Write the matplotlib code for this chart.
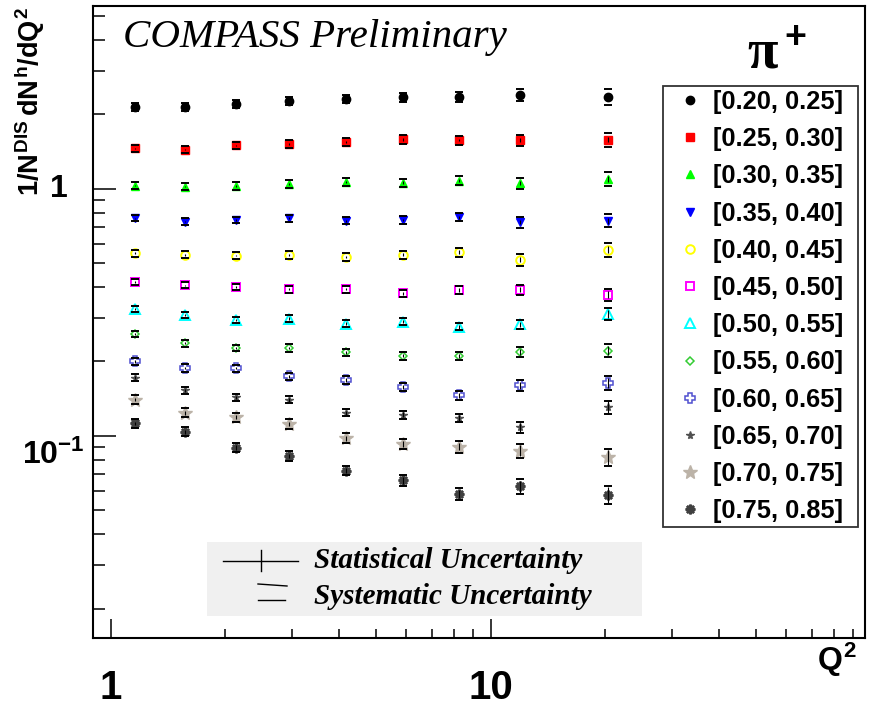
import numpy as np
import matplotlib
matplotlib.use("Agg")
import matplotlib.pyplot as plt
from matplotlib.lines import Line2D
from matplotlib.patches import Rectangle
from matplotlib.ticker import FixedLocator, LogLocator, NullFormatter
import matplotlib.transforms as mtransforms

plt.rcParams['font.family'] = ['Liberation Sans', 'DejaVu Sans']
plt.rcParams['mathtext.fontset'] = 'custom'
plt.rcParams['mathtext.rm'] = 'Liberation Sans:bold'
plt.rcParams['mathtext.it'] = 'Liberation Sans:bold'
plt.rcParams['mathtext.bf'] = 'Liberation Sans:bold'

W, H = 873, 709

# Q^2 bin centres
q2 = [1.16, 1.57, 2.14, 2.95, 4.16, 5.89, 8.25, 11.96, 20.3]

# multiplicities per z bin
z_labels = ["[0.20, 0.25]", "[0.25, 0.30]", "[0.30, 0.35]", "[0.35, 0.40]",
            "[0.40, 0.45]", "[0.45, 0.50]", "[0.50, 0.55]", "[0.55, 0.60]",
            "[0.60, 0.65]", "[0.65, 0.70]", "[0.70, 0.75]", "[0.75, 0.85]"]
m_020 = [2.15, 2.15, 2.21, 2.27, 2.31, 2.35, 2.35, 2.40, 2.36]
m_025 = [1.46, 1.44, 1.50, 1.52, 1.545, 1.584, 1.574, 1.574, 1.58]
m_030 = [1.031, 1.022, 1.028, 1.045, 1.064, 1.06, 1.08, 1.054, 1.098]
m_035 = [0.761, 0.737, 0.749, 0.761, 0.744, 0.747, 0.768, 0.733, 0.744]
m_040 = [0.549, 0.541, 0.537, 0.541, 0.529, 0.542, 0.554, 0.517, 0.568]
m_045 = [0.420, 0.407, 0.401, 0.392, 0.392, 0.378, 0.390, 0.390, 0.373]
m_050 = [0.326, 0.308, 0.294, 0.2985, 0.285, 0.2896, 0.277, 0.283, 0.311]
m_055 = [0.259, 0.237, 0.227, 0.227, 0.2175, 0.211, 0.211, 0.219, 0.2215]
m_060 = [0.200, 0.1885, 0.188, 0.174, 0.1686, 0.158, 0.146, 0.160, 0.164]
m_065 = [0.172, 0.153, 0.143, 0.140, 0.124, 0.1216, 0.118, 0.1084, 0.1306]
m_070 = [0.140, 0.124, 0.119, 0.112, 0.098, 0.0928, 0.0905, 0.0872, 0.082]
m_075 = [0.1125, 0.104, 0.0897, 0.083, 0.0724, 0.0660, 0.0582, 0.0624, 0.0577]
mult = [m_020, m_025, m_030, m_035, m_040, m_045, m_050, m_055, m_060, m_065, m_070, m_075]

# relative uncertainties (rough reading of the bar sizes)
sys_rel_q = [0.028, 0.028, 0.028, 0.03, 0.03, 0.032, 0.036, 0.045, 0.055]
sys_scale_z = [1.3, 1.2, 1.2, 1.1, 1.2, 1.0, 1.0, 1.1, 1.2, 1.1, 1.5, 1.5]
stat_rel_q = [0.008, 0.009, 0.01, 0.011, 0.013, 0.016, 0.02, 0.028, 0.04]
stat_scale_z = [0.6, 0.6, 0.7, 0.7, 0.8, 0.8, 0.9, 1.0, 1.2, 1.5, 1.8, 2.0]

styles = [
    dict(marker='o', color='black', mfc='black', ms=6.0),
    dict(marker='s', color='red', mfc='red', ms=6.0),
    dict(marker='^', color='#00ff00', mfc='#00ff00', ms=5.8),
    dict(marker='v', color='#0000ff', mfc='#0000ff', ms=5.8),
    dict(marker='o', color='#ffff00', mfc='white', ms=6.2, mew=1.4),
    dict(marker='s', color='#ff00ff', mfc='white', ms=6.2, mew=1.4),
    dict(marker='^', color='#00ffff', mfc='white', ms=6.8, mew=1.4),
    dict(marker='D', color='#33cc33', mfc='white', ms=4.4, mew=1.1),
    dict(marker='P', color='#5050d0', mfc='white', ms=7.2, mew=1.1),
    dict(marker='*', color='#505050', mfc='#505050', ms=5.8),
    dict(marker='*', color='#bcb3a8', mfc='#bcb3a8', ms=10.5),
    dict(marker=(8, 2, 0), color='#404040', mfc='#404040', ms=7.0, mew=1.8),
]

fig = plt.figure(figsize=(W / 100, H / 100), dpi=100)
ax = fig.add_axes([0.1065, 0.1002, 0.8843, 0.8914])

handles = []
for i, (vals, st) in enumerate(zip(mult, styles)):
    vals = np.array(vals)
    sys_err = vals * np.array(sys_rel_q) * sys_scale_z[i]
    stat_err = vals * np.array(stat_rel_q) * stat_scale_z[i]
    h, = ax.plot(q2, vals, ls='none', marker=st['marker'], color=st['color'],
                 mfc=st['mfc'], mec=st['color'], ms=st['ms'], mew=st.get('mew', 1.0), zorder=3)
    handles.append(h)
    ax.errorbar(q2, vals, yerr=stat_err, fmt='none', ecolor='black', elinewidth=0.8, capsize=0, zorder=4)
    ax.errorbar(q2, vals, yerr=sys_err, fmt='none', ecolor='black', elinewidth=0,
                capsize=2.9, capthick=1.4, zorder=4)

ax.set_xscale('log')
ax.set_yscale('log')
ax.set_xlim(0.898, 96.6)
ax.set_ylim(0.0152, 5.5)

ax.yaxis.set_major_locator(FixedLocator([0.1, 1]))
ax.yaxis.set_minor_locator(LogLocator(base=10, subs=np.arange(2, 10)))
ax.yaxis.set_major_formatter(NullFormatter())
ax.yaxis.set_minor_formatter(NullFormatter())
ax.xaxis.set_minor_locator(LogLocator(base=10, subs=np.arange(2, 10)))
ax.xaxis.set_minor_formatter(NullFormatter())
ax.set_xticks([1, 10], labels=['1', '10'])

ax.tick_params(axis='both', which='both', direction='in', width=1.1, top=False, right=False)
ax.tick_params(axis='y', which='major', length=16.5)
ax.tick_params(axis='y', which='minor', length=8.6)
ax.tick_params(axis='x', which='major', length=13.5, pad=22, labelsize=29)
ax.tick_params(axis='x', which='minor', length=6.5)
for lab in ax.get_xticklabels():
    lab.set_fontweight('bold')
for sp in ax.spines.values():
    sp.set_linewidth(1.5)

# y tick labels, ROOT style (exponent label sits lower)
ytrans = mtransforms.blended_transform_factory(ax.transAxes, ax.transData)
ax.text(-0.033, 1, '1', transform=ytrans, ha='right', va='center',
        fontsize=23, fontweight='bold')
off = mtransforms.ScaledTranslation(0, -0.19, fig.dpi_scale_trans)
ax.text(-0.011, 0.1, '$10^{-1}$', transform=ytrans + off, ha='right', va='center', fontsize=23)

fig.text(30 / W, 1 - 7 / H, r'$1/N^{DIS}\,dN^{h}/dQ^{2}$', rotation=90,
         ha='center', va='top', fontsize=19.5)
fig.text(837 / W, 1 - 660 / H, '$Q^{2}$', ha='center', va='center', fontsize=23)

fig.text(123 / W, 1 - 38 / H, 'COMPASS Preliminary', ha='left', va='center',
         fontsize=29.5, family='Liberation Serif', style='italic')
fig.text(763 / W, 1 - 54 / H, 'π', ha='center', va='center', fontsize=40,
         family='Liberation Serif', fontweight='bold')
fig.text(795 / W, 1 - 38 / H, '+', ha='center', va='center', fontsize=27,
         fontweight='bold')

leg = ax.legend(handles, z_labels, loc='upper left',
                bbox_to_anchor=(0.738, 0.1754, 0.253, 0.6982), mode='expand',
                borderaxespad=0, frameon=True, fancybox=False, edgecolor='black',
                prop=dict(family='Liberation Sans', weight='bold', size=18.3),
                handlelength=1.8, handletextpad=0.0, borderpad=0.16,
                labelspacing=0.52, numpoints=1)
leg.get_frame().set_linewidth(1.3)


# uncertainty key, drawn in figure pixels
def fx(x):
    return x / W


def fy(y):
    return 1 - y / H


fig.add_artist(Rectangle((fx(207), fy(616)), (642 - 207) / W, (616 - 542) / H,
                         transform=fig.transFigure, facecolor='#f0f0f0', edgecolor='none', zorder=5))
key_lines = [((223, 298), (560.5, 560.5)), ((261, 261), (550, 571)),
             ((258, 287), (584, 586)), ((258, 285), (599.5, 599.5))]
for xs, ys in key_lines:
    fig.add_artist(Line2D([fx(xs[0]), fx(xs[1])], [fy(ys[0]), fy(ys[1])],
                          transform=fig.transFigure, color='black', lw=1.0, zorder=6))
for label, yc in [('Statistical Uncertainty', 560), ('Systematic Uncertainty', 596)]:
    fig.text(fx(314), fy(yc), label, ha='left', va='center', fontsize=21,
             family='Liberation Serif', weight='bold', style='italic', zorder=6)

fig.savefig('out.png', dpi=100)
